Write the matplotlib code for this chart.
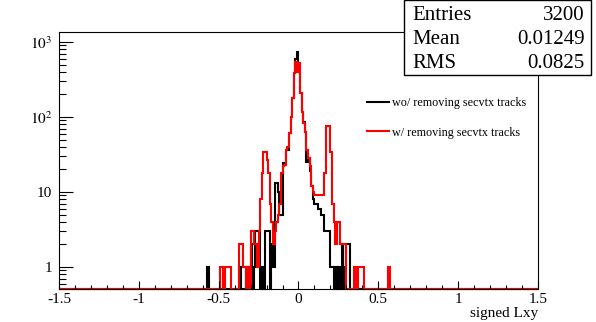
import numpy as np
import matplotlib
matplotlib.use('Agg')
import matplotlib.pyplot as plt
from matplotlib.patches import Rectangle

plt.rcParams['font.family'] = ['Liberation Serif', 'DejaVu Serif']
plt.rcParams['mathtext.fontset'] = 'stix'

# 300 bins from -1.5 to 1.5, the listed counts start at the bin -0.60
EDGES = np.linspace(-1.5, 1.5, 301)
FIRST_BIN = 90

wo_removing = [
    0, 0, 0, 1, 0, 0, 0, 0, 0, 0,
    0, 0, 0, 0, 0, 0, 0, 0, 0, 0,
    0, 0, 0, 1, 0, 0, 0, 1, 0, 1,
    2, 0, 1, 3, 3, 3, 0, 1, 0, 3,
    3, 3, 0, 2, 1, 13, 13, 10, 5, 5,
    24, 24, 36, 36, 61, 101, 179, 386, 600, 730,
    500, 207, 118, 85, 64, 25, 28, 19, 12, 8,
    7, 7, 6, 6, 5, 5, 3, 3, 3, 3,
    1, 1, 0, 1, 0, 1, 0, 2, 0, 1,
    2, 2, 0, 0, 0, 0, 0, 0, 0, 0,
    0, 0, 0, 0, 0, 0, 0, 0, 0, 0,
    0, 0, 0, 0, 0, 0, 0, 0, 0, 0,
]
w_removing = [
    0, 0, 0, 0, 0, 0, 0, 0, 0, 0,
    0, 1, 1, 0, 1, 1, 1, 1, 0, 0,
    0, 0, 0, 2, 2, 1, 1, 0, 1, 0,
    3, 3, 2, 2, 1, 3, 8, 18, 34, 34,
    27, 18, 7, 4, 2, 3, 4, 5, 7, 18,
    22, 23, 36, 40, 61, 101, 179, 386, 546, 400,
    520, 209, 115, 83, 64, 36, 28, 22, 12, 10,
    9, 9, 9, 9, 9, 9, 18, 76, 76, 76,
    34, 7, 4, 2, 4, 4, 2, 2, 2, 2,
    0, 0, 0, 0, 0, 1, 0, 1, 1, 1,
    1, 0, 0, 0, 0, 0, 0, 0, 0, 0,
    0, 0, 0, 0, 0, 0, 1, 0, 0, 0,
]
labels = ['wo/ removing secvtx tracks', 'w/ removing secvtx tracks']
stats = [('Entries', '3200'), ('Mean', '0.01249'), ('RMS', '0.0825')]

YMIN, YMAX = 0.509, 1360


def full(counts):
    h = np.zeros(len(EDGES) - 1)
    h[FIRST_BIN:FIRST_BIN + len(counts)] = counts
    # empty bins sit on the bottom of the frame, like ROOT draws them
    return np.where(h > 0, h, YMIN)


fig = plt.figure(figsize=(5.96, 3.22), dpi=100)
ax = fig.add_axes([59 / 596, 1 - 289 / 322, 479 / 596, 257 / 322])

ax.stairs(full(wo_removing), EDGES, baseline=None, color='black', lw=1.5,
          label=labels[0], clip_on=False)
ax.stairs(full(w_removing), EDGES, baseline=None, color='#ff0000', lw=1.5,
          label=labels[1], clip_on=False)

ax.set_yscale('log')
ax.set_xlim(-1.5, 1.5)
ax.set_ylim(YMIN, YMAX)

ax.set_xticks(np.arange(-1.5, 1.51, 0.5))
ax.set_xticklabels(['-1.5', '-1', '-0.5', '0', '0.5', '1', '1.5'])
ax.set_xticks(np.arange(-1.5, 1.51, 0.1), minor=True)
ax.set_yticks([1, 10, 100, 1000])
ax.set_yticklabels(['1', '10', r'$10^{2}$', r'$10^{3}$'])
minor_y = [m * 10.0 ** d for d in range(-1, 4) for m in range(2, 10)]
ax.set_yticks([v for v in minor_y if YMIN < v < YMAX], minor=True)
ax.yaxis.set_minor_formatter(plt.NullFormatter())

ax.tick_params(axis='both', which='both', direction='in', top=False, right=False,
               width=0.8, labelsize=11)
ax.tick_params(axis='y', which='major', length=10, pad=5)
ax.tick_params(axis='y', which='minor', length=5)
ax.tick_params(axis='x', which='major', length=5.5, pad=3)
ax.tick_params(axis='x', which='minor', length=2.8)
for s in ax.spines.values():
    s.set_linewidth(0.8)

fig.text(538 / 596, 1 - 314 / 322, 'signed Lxy', ha='right', va='center', fontsize=11)

ax.legend(loc='upper left', bbox_to_anchor=(367 / 596, 1 - 97 / 322),
          bbox_transform=fig.transFigure, frameon=False, fontsize=8.7,
          handlelength=1.8, handletextpad=0.3, labelspacing=1.45, borderpad=0,
          borderaxespad=0)

# statistics box
fig.add_artist(Rectangle((404 / 596, 1 - 75 / 322), 187 / 596, 75 / 322,
                         transform=fig.transFigure, facecolor='white',
                         edgecolor='black', lw=1.0, zorder=5))
for i, (name, val) in enumerate(stats):
    y = 1 - (15 + 24 * i) / 322
    fig.text(412 / 596, y, name, ha='left', va='center', fontsize=15, zorder=6)
    fig.text(585 / 596, y, val, ha='right', va='center', fontsize=15, zorder=6)

fig.savefig('out.png', dpi=100)
